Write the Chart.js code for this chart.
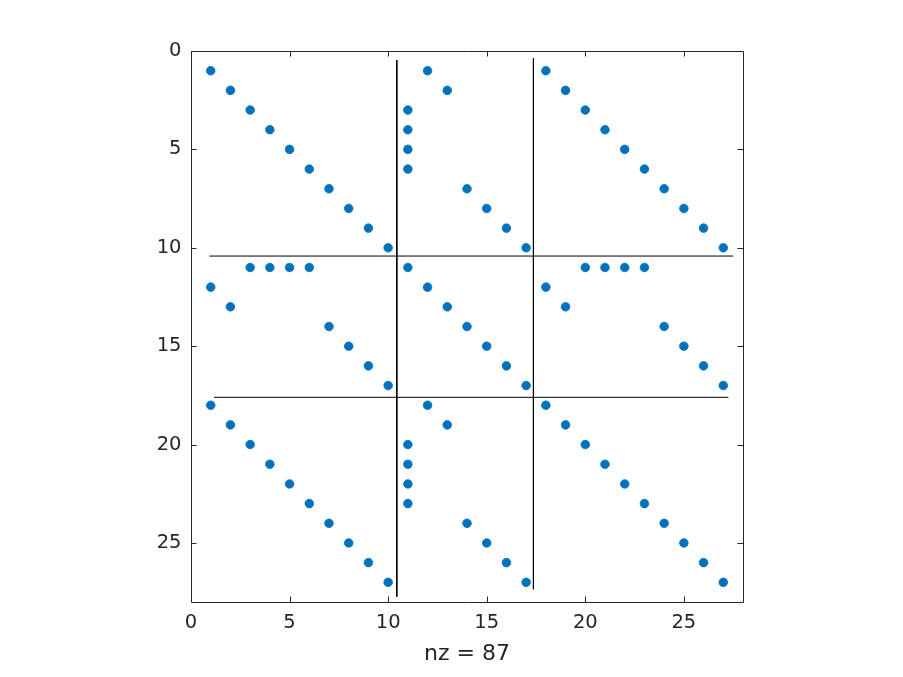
<!DOCTYPE html>
<html>
<head>
<meta charset="utf-8">
<script src="https://cdn.jsdelivr.net/npm/chart.js@4.4.1/dist/chart.umd.min.js"></script>
<style>
html,body{margin:0;padding:0;background:#fff;}
#wrap{width:903px;height:677px;}
</style>
</head>
<body>
<div id="wrap"><canvas id="c" width="903" height="677"></canvas></div>
<script>
// Nonzero entries (row, column)
const nzRows = [
  1,1,1, 2,2,2, 3,3,3, 4,4,4, 5,5,5, 6,6,6, 7,7,7, 8,8,8, 9,9,9, 10,10,10,
  11,11,11,11,11,11,11,11,11,
  12,12,12, 13,13,13, 14,14,14, 15,15,15, 16,16,16, 17,17,17,
  18,18,18, 19,19,19, 20,20,20, 21,21,21, 22,22,22, 23,23,23, 24,24,24, 25,25,25, 26,26,26, 27,27,27
];
const nzCols = [
  1,12,18, 2,13,19, 3,11,20, 4,11,21, 5,11,22, 6,11,23, 7,14,24, 8,15,25, 9,16,26, 10,17,27,
  3,4,5,6,11,20,21,22,23,
  1,12,18, 2,13,19, 7,14,24, 8,15,25, 9,16,26, 10,17,27,
  1,12,18, 2,13,19, 3,11,20, 4,11,21, 5,11,22, 6,11,23, 7,14,24, 8,15,25, 9,16,26, 10,17,27
];
// Block separator lines: [x1, y1, x2, y2]
const sepV1 = [10.44, 0.46, 10.44, 27.73];
const sepV2 = [17.37, 0.37, 17.37, 27.35];
const sepH1 = [0.93, 10.42, 27.5, 10.42];
const sepH2 = [1.17, 17.6, 27.26, 17.6];
const xTicks = [0, 5, 10, 15, 20, 25];
const yTicks = [0, 5, 10, 15, 20, 25];
const axisMin = 0, axisMax = 28;
const xLabel = 'nz = ' + nzRows.length;

const pts = nzRows.map((r, i) => ({x: nzCols[i], y: r}));
function seg(a){ return [{x:a[0], y:a[1]}, {x:a[2], y:a[3]}]; }
const lineDs = [sepV1, sepV2, sepH1, sepH2].map(s => ({
  type: 'line', data: seg(s), borderColor: '#000', borderWidth: 1,
  pointRadius: 0, fill: false, showLine: true, order: 2
}));

const AX = '#262626';
const FONT = 'DejaVu Sans';

const boxPlugin = {
  id: 'boxTicks',
  afterDraw(chart) {
    const {ctx, chartArea: a, scales} = chart;
    const xs = scales.x, ys = scales.y;
    const L = 5.5;
    ctx.save();
    ctx.strokeStyle = AX;
    ctx.lineWidth = 1;
    ctx.beginPath();
    ctx.rect(Math.round(a.left)+0.5, Math.round(a.top)+0.5, Math.round(a.right-a.left), Math.round(a.bottom-a.top));
    xTicks.forEach(v => {
      const px = Math.round(xs.getPixelForValue(v)) + 0.5;
      ctx.moveTo(px, a.bottom); ctx.lineTo(px, a.bottom - L);
      ctx.moveTo(px, a.top); ctx.lineTo(px, a.top + L);
    });
    yTicks.forEach(v => {
      const py = Math.round(ys.getPixelForValue(v)) + 0.5;
      ctx.moveTo(a.left, py); ctx.lineTo(a.left + L, py);
      ctx.moveTo(a.right, py); ctx.lineTo(a.right - L, py);
    });
    ctx.stroke();
    ctx.restore();
  }
};

new Chart(document.getElementById('c'), {
  type: 'scatter',
  data: {
    datasets: [
      {
        data: pts, pointRadius: 4.3, pointHoverRadius: 4.3,
        backgroundColor: '#0072BD', borderColor: '#0072BD', borderWidth: 0.8,
        pointStyle: 'circle', order: 1
      },
      ...lineDs
    ]
  },
  options: {
    responsive: false,
    animation: false,
    events: [],
    layout: { padding: { left: 0, top: 51, right: 160, bottom: 0 } },
    plugins: { legend: { display: false }, tooltip: { enabled: false } },
    scales: {
      x: {
        type: 'linear', position: 'bottom', min: axisMin, max: axisMax,
        grid: { display: false, drawTicks: false },
        border: { display: false },
        afterBuildTicks: s => { s.ticks = xTicks.map(v => ({value: v})); },
        afterFit: s => { s.height = 75; },
        ticks: { color: AX, font: { family: FONT, size: 19.5 }, padding: 9, maxRotation: 0 },
        title: { display: true, text: xLabel, color: AX, font: { family: FONT, size: 22 }, padding: { top: 0, bottom: 10 } }
      },
      y: {
        type: 'linear', position: 'left', reverse: true, min: axisMin, max: axisMax,
        grid: { display: false, drawTicks: false },
        border: { display: false },
        afterBuildTicks: s => { s.ticks = yTicks.map(v => ({value: v})); },
        afterFit: s => { s.width = 191; },
        ticks: { color: AX, font: { family: FONT, size: 19.5 }, padding: 9.5 }
      }
    }
  },
  plugins: [boxPlugin]
});
</script>
</body>
</html>
